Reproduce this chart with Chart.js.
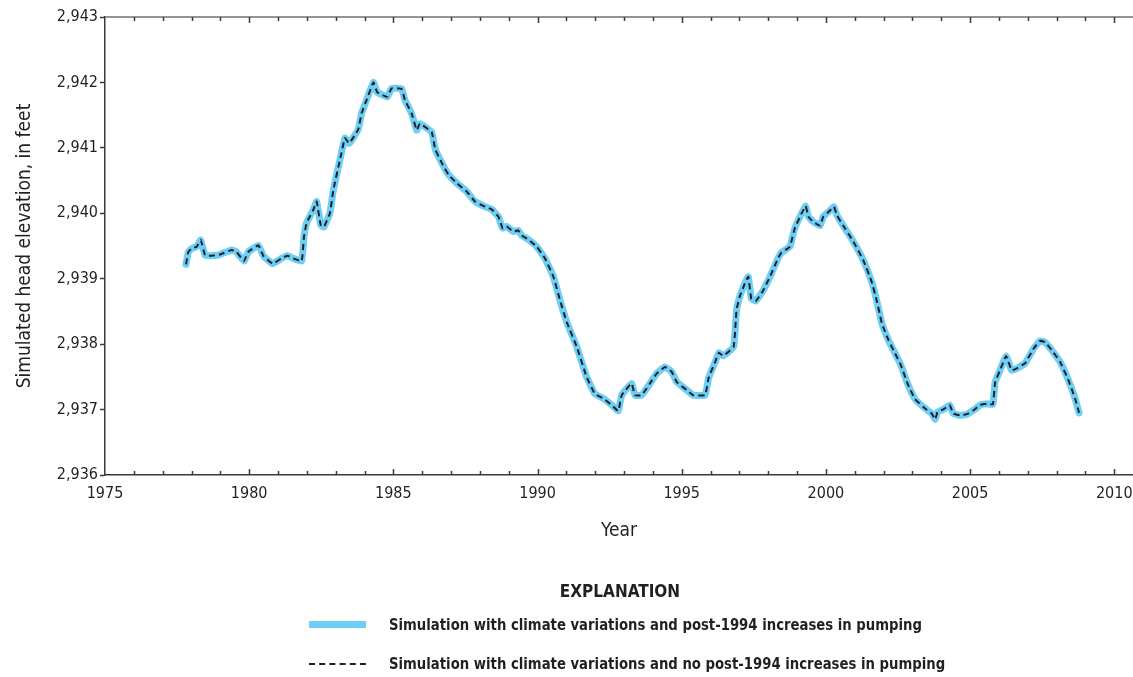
<!DOCTYPE html>
<html>
<head>
<meta charset="utf-8">
<script src="https://cdn.jsdelivr.net/npm/chart.js@4"></script>
<style>
  html, body { margin: 0; padding: 0; background: #fff; }
  #wrap { position: relative; width: 1133px; height: 677px; }
  #chart { position: absolute; left: 0; top: 0; }
  .legend { position: absolute; font-family: 'Liberation Sans Narrow', 'DejaVu Sans Condensed', sans-serif; font-weight: 700; color: #231f20; }
  .legend-title { left: 0; width: 1240px; top: 581px; font-size: 17px; text-align: center; }
  .legend-item { left: 309px; font-size: 16px; white-space: nowrap; }
  .legend-item .swatch { position: absolute; left: 0; width: 57px; }
  .legend-item .label { position: absolute; left: 80px; top: -10px; transform: scaleX(0.92); transform-origin: left center; }
</style>
</head>
<body>
<div id="wrap">
  <canvas id="chart" width="1133" height="677"></canvas>
  <div class="legend legend-title">EXPLANATION</div>
  <div class="legend legend-item" style="top:625px">
    <div class="swatch" style="top:-4px;height:7px;background:#6dcff6"></div>
    <div class="label">Simulation with climate variations and post-1994 increases in pumping</div>
  </div>
  <div class="legend legend-item" style="top:664px">
    <div class="swatch" style="top:-1px;height:0;border-top:2px dashed #231f20"></div>
    <div class="label">Simulation with climate variations and no post-1994 increases in pumping</div>
  </div>
</div>
<script>
// ============================================================
// Simulated head elevation, 1977-2009
// ============================================================

const years = [
  1977.81, 1977.89, 1978.00, 1978.18, 1978.32, 1978.47, 1978.64, 1978.99, 1979.39, 1979.56,
  1979.82, 1979.97, 1980.32, 1980.49, 1980.81, 1981.12, 1981.33, 1981.53, 1981.82, 1981.90,
  1981.99, 1982.22, 1982.34, 1982.48, 1982.59, 1982.80, 1982.92, 1983.15, 1983.32, 1983.47,
  1983.78, 1983.90, 1984.07, 1984.31, 1984.44, 1984.79, 1984.94, 1985.29, 1985.40, 1985.63,
  1985.81, 1985.92, 1986.33, 1986.45, 1986.68, 1986.91, 1987.20, 1987.55, 1987.83, 1988.18,
  1988.41, 1988.64, 1988.79, 1988.93, 1989.16, 1989.33, 1989.45, 1989.68, 1989.97, 1990.26,
  1990.55, 1990.78, 1991.01, 1991.36, 1991.70, 1991.99, 1992.28, 1992.57, 1992.80, 1992.92,
  1993.26, 1993.38, 1993.61, 1993.90, 1994.13, 1994.42, 1994.65, 1994.83, 1995.17, 1995.40,
  1995.81, 1995.93, 1996.16, 1996.29, 1996.44, 1996.80, 1996.90, 1997.00, 1997.19, 1997.31,
  1997.41, 1997.57, 1997.80, 1998.06, 1998.35, 1998.46, 1998.75, 1998.92, 1999.16, 1999.30,
  1999.39, 1999.56, 1999.80, 1999.91, 2000.09, 2000.28, 2000.38, 2000.66, 2000.95, 2001.30,
  2001.59, 2001.76, 2001.94, 2002.17, 2002.40, 2002.60, 2002.83, 2003.09, 2003.38, 2003.67,
  2003.79, 2003.87, 2004.10, 2004.29, 2004.42, 2004.66, 2004.89, 2005.12, 2005.35, 2005.58,
  2005.79, 2005.87, 2006.04, 2006.25, 2006.44, 2006.62, 2006.91, 2007.20, 2007.43, 2007.60,
  2007.83, 2008.12, 2008.41, 2008.64, 2008.78
];

// with post-1994 increases in pumping (blue)
const headWithIncrease = [
  2939.22, 2939.41, 2939.46, 2939.49, 2939.59, 2939.36, 2939.35, 2939.37, 2939.44, 2939.41,
  2939.27, 2939.41, 2939.51, 2939.35, 2939.23, 2939.31, 2939.35, 2939.31, 2939.27, 2939.64,
  2939.85, 2940.05, 2940.18, 2939.82, 2939.79, 2940.00, 2940.36, 2940.82, 2941.15, 2941.07,
  2941.28, 2941.53, 2941.73, 2942.00, 2941.85, 2941.78, 2941.91, 2941.90, 2941.73, 2941.53,
  2941.27, 2941.37, 2941.24, 2940.98, 2940.77, 2940.59, 2940.46, 2940.33, 2940.18, 2940.10,
  2940.06, 2939.95, 2939.77, 2939.80, 2939.72, 2939.74, 2939.66, 2939.60, 2939.49, 2939.31,
  2939.03, 2938.67, 2938.34, 2937.96, 2937.50, 2937.24, 2937.17, 2937.07, 2936.98, 2937.22,
  2937.40, 2937.22, 2937.22, 2937.40, 2937.55, 2937.65, 2937.58, 2937.42, 2937.30, 2937.22,
  2937.22, 2937.48, 2937.73, 2937.87, 2937.82, 2937.96, 2938.52, 2938.71, 2938.93, 2939.03,
  2938.70, 2938.66, 2938.80, 2939.03, 2939.32, 2939.40, 2939.49, 2939.77, 2940.00, 2940.11,
  2939.95, 2939.87, 2939.81, 2939.95, 2940.02, 2940.10, 2939.97, 2939.77, 2939.57, 2939.28,
  2938.95, 2938.67, 2938.32, 2938.06, 2937.86, 2937.68, 2937.40, 2937.16, 2937.04, 2936.94,
  2936.85, 2936.96, 2937.01, 2937.07, 2936.94, 2936.91, 2936.93, 2936.99, 2937.07, 2937.09,
  2937.08, 2937.42, 2937.60, 2937.82, 2937.60, 2937.63, 2937.71, 2937.93, 2938.05, 2938.03,
  2937.91, 2937.73, 2937.45, 2937.17, 2936.95
];

// without post-1994 increases (black dashed) - lies right on top of the blue line
const headNoIncrease = [
  2939.22, 2939.41, 2939.46, 2939.49, 2939.59, 2939.36, 2939.35, 2939.37, 2939.44, 2939.41,
  2939.27, 2939.41, 2939.51, 2939.35, 2939.23, 2939.31, 2939.35, 2939.31, 2939.27, 2939.64,
  2939.85, 2940.05, 2940.18, 2939.82, 2939.79, 2940.00, 2940.36, 2940.82, 2941.15, 2941.07,
  2941.28, 2941.53, 2941.73, 2942.00, 2941.85, 2941.78, 2941.91, 2941.90, 2941.73, 2941.53,
  2941.27, 2941.37, 2941.24, 2940.98, 2940.77, 2940.59, 2940.46, 2940.33, 2940.18, 2940.10,
  2940.06, 2939.95, 2939.77, 2939.80, 2939.72, 2939.74, 2939.66, 2939.60, 2939.49, 2939.31,
  2939.03, 2938.67, 2938.34, 2937.96, 2937.50, 2937.24, 2937.17, 2937.07, 2936.98, 2937.22,
  2937.40, 2937.22, 2937.22, 2937.40, 2937.55, 2937.65, 2937.58, 2937.42, 2937.30, 2937.22,
  2937.22, 2937.48, 2937.73, 2937.87, 2937.82, 2937.96, 2938.52, 2938.71, 2938.93, 2939.03,
  2938.70, 2938.66, 2938.80, 2939.03, 2939.32, 2939.40, 2939.49, 2939.77, 2940.00, 2940.11,
  2939.95, 2939.87, 2939.81, 2939.95, 2940.02, 2940.10, 2939.97, 2939.77, 2939.57, 2939.28,
  2938.95, 2938.67, 2938.32, 2938.06, 2937.86, 2937.68, 2937.40, 2937.16, 2937.04, 2936.94,
  2936.85, 2936.96, 2937.01, 2937.07, 2936.94, 2936.91, 2936.93, 2936.99, 2937.07, 2937.09,
  2937.08, 2937.42, 2937.60, 2937.82, 2937.60, 2937.63, 2937.71, 2937.93, 2938.05, 2938.03,
  2937.91, 2937.73, 2937.45, 2937.17, 2936.95
];

const xRange = [1975, 2010.65];
const yRange = [2936, 2943];
const xLabelYears = [1975, 1980, 1985, 1990, 1995, 2000, 2005, 2010];

const FONT = "'Liberation Sans Narrow', 'DejaVu Sans Condensed', sans-serif";
const AXIS = '#3a3a3a';
const BLUE = '#6dcff6';

const toPoints = (xs, ys) => xs.map((x, i) => ({ x, y: ys[i] }));

// bottom ticks point up into the plot, top frame line with ticks pointing down
const innerTicks = {
  id: 'innerTicks',
  afterDraw(chart) {
    const { ctx, chartArea: a, scales: { x } } = chart;
    ctx.save();
    ctx.lineWidth = 1.5;
    // top frame line (lighter grey in the original)
    ctx.strokeStyle = '#707070';
    ctx.beginPath();
    ctx.moveTo(a.left, a.top);
    ctx.lineTo(chart.width, a.top);
    ctx.stroke();
    ctx.strokeStyle = AXIS;
    ctx.beginPath();
    for (let yr = Math.ceil(xRange[0]); yr <= xRange[1]; yr++) {
      if (yr === xRange[0]) continue;
      const px = Math.round(x.getPixelForValue(yr)) + 0.5;
      const len = xLabelYears.includes(yr) ? 6 : 4;
      ctx.moveTo(px, a.bottom);
      ctx.lineTo(px, a.bottom - len);
      ctx.moveTo(px, a.top);
      ctx.lineTo(px, a.top + len);
    }
    ctx.stroke();
    ctx.restore();
  }
};

new Chart(document.getElementById('chart'), {
  type: 'line',
  data: {
    datasets: [
      {
        label: 'Simulation with climate variations and post-1994 increases in pumping',
        data: toPoints(years, headWithIncrease),
        borderColor: BLUE,
        borderWidth: 7,
        borderJoinStyle: 'round',
        borderCapStyle: 'round',
        pointRadius: 0,
        tension: 0.1,
        order: 2,
      },
      {
        label: 'Simulation with climate variations and no post-1994 increases in pumping',
        data: toPoints(years, headNoIncrease),
        borderColor: '#231f20',
        borderWidth: 2,
        borderDash: [6, 4],
        pointRadius: 0,
        tension: 0.1,
        order: 1,
      }
    ]
  },
  options: {
    responsive: false,
    animation: false,
    layout: { padding: { left: 0, right: 0, top: 17, bottom: 132 } },
    plugins: {
      legend: { display: false },
      tooltip: { enabled: false },
    },
    scales: {
      x: {
        type: 'linear',
        min: xRange[0],
        max: xRange[1],
        afterFit: (s) => { s.height = 70; s.paddingLeft = 0; s.paddingRight = 0; },
        grid: { drawOnChartArea: false, drawTicks: false },
        border: { color: AXIS, width: 1.5 },
        ticks: {
          stepSize: 1,
          includeBounds: false,
          autoSkip: false,
          maxRotation: 0,
          padding: 9,
          color: '#231f20',
          font: { family: FONT, size: 16 },
          callback: (v) => xLabelYears.includes(v) ? String(v) : '',
        },
        title: {
          display: true,
          text: 'Year',
          color: '#231f20',
          font: { family: FONT, size: 19 },
          padding: { top: 4, bottom: 3 },
        },
      },
      y: {
        min: yRange[0],
        max: yRange[1],
        afterFit: (s) => { s.width = 105; s.paddingTop = 0; s.paddingBottom = 0; },
        grid: { drawOnChartArea: false, tickLength: 5, tickColor: AXIS, tickWidth: 1.5 },
        border: { color: AXIS, width: 1.5 },
        ticks: {
          stepSize: 1,
          padding: 2,
          color: '#231f20',
          font: { family: FONT, size: 16 },
          callback: (v) => v.toLocaleString('en-US'),
        },
        title: {
          display: true,
          text: 'Simulated head elevation, in feet',
          color: '#231f20',
          font: { family: FONT, size: 19 },
          padding: { top: 14, bottom: 4 },
        },
      },
    },
  },
  plugins: [innerTicks],
});
</script>
</body>
</html>
